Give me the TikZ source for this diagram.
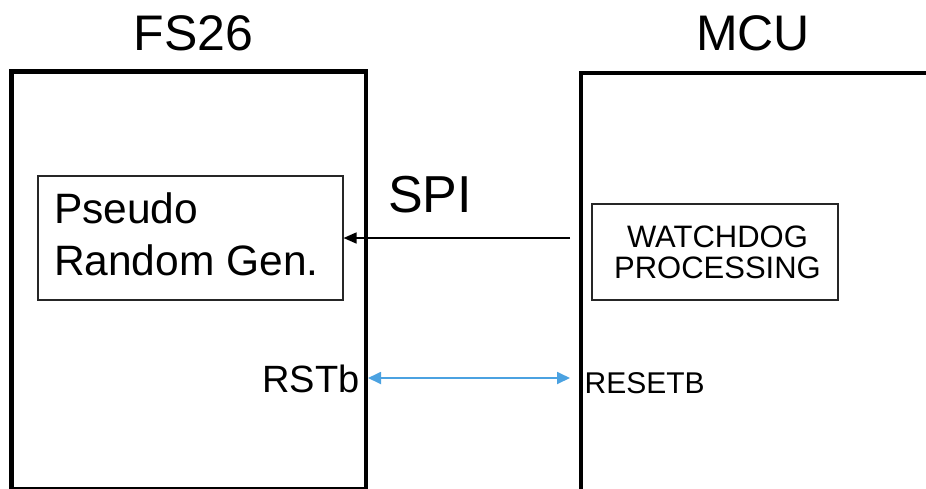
\documentclass[tikz,border=0pt]{standalone}
\usepackage{fontspec}
\setmainfont{Liberation Sans}
\usetikzlibrary{arrows.meta}
\definecolor{rstblue}{RGB}{75,162,225}
\tikzset{
  chip/.style={draw=black, line width=4.5pt, rectangle, inner sep=0pt, fill=none},
  inner box/.style={draw=black!85, line width=1.1pt, rectangle, inner sep=0pt},
  txt/.style={inner sep=0pt, outer sep=0pt},
  spiarrow/.style={draw=black, line width=1.6pt, -{Triangle[length=13pt,width=11pt]}},
  rstarrow/.style={draw=rstblue, line width=1.8pt, {Triangle[length=13pt,width=12pt]}-{Triangle[length=13pt,width=12pt]}},
}
\newcommand{\fsz}[1]{\fontsize{#1}{#1}\selectfont}
\begin{document}
\begin{tikzpicture}[x=1pt,y=-1pt]
  \useasboundingbox (0,0) rectangle (926,488);
  \clip (0,0) rectangle (926,488);
  \fill[white] (0,0) rectangle (926,488);
  % chips
  \node[chip, minimum width=354.5pt, minimum height=417.5pt] (fs26) at (188.75,280.25) {};
  \node[chip, minimum width=379pt, minimum height=447pt] (mcu) at (770.5,296.5) {};
  % titles
  \node[txt, anchor=base, font=\fsz{50}] (fs26title) at (193.5,50) {FS26};
  \node[txt, anchor=base, font=\fsz{50}] (mcutitle) at (753,50) {MCU};
  % inner boxes
  \node[inner box, minimum width=305pt, minimum height=124pt] (prg) at (190.5,238) {};
  \node[txt, anchor=base west, font=\fsz{42.5}] (prg1) at (54,223) {Pseudo};
  \node[txt, anchor=base west, font=\fsz{42.5}] (prg2) at (54,275) {Random Gen.};
  \node[inner box, minimum width=246pt, minimum height=96pt] (wd) at (715,252) {};
  \node[txt, anchor=base, font=\fsz{31}] (wd1) at (717.5,247) {WATCHDOG};
  \node[txt, anchor=base, font=\fsz{31}] (wd2) at (717.5,278) {PROCESSING};
  % SPI
  \node[txt, anchor=base, font=\fsz{52}] (spi) at (430,212) {SPI};
  \coordinate (spistart) at (570,238);
  \draw[spiarrow] (spistart) -- (prg.east);
  % reset
  \node[txt, anchor=base east, font=\fsz{38}] (rstb) at (359.5,392) {RSTb};
  \node[txt, anchor=base west, font=\fsz{30}] (resetb) at (584.6,393) {RESETB};
  \coordinate (rl) at (368,378);
  \coordinate (rr) at (570,378);
  \draw[rstarrow] (rl) -- (rr);
\end{tikzpicture}
\end{document}
